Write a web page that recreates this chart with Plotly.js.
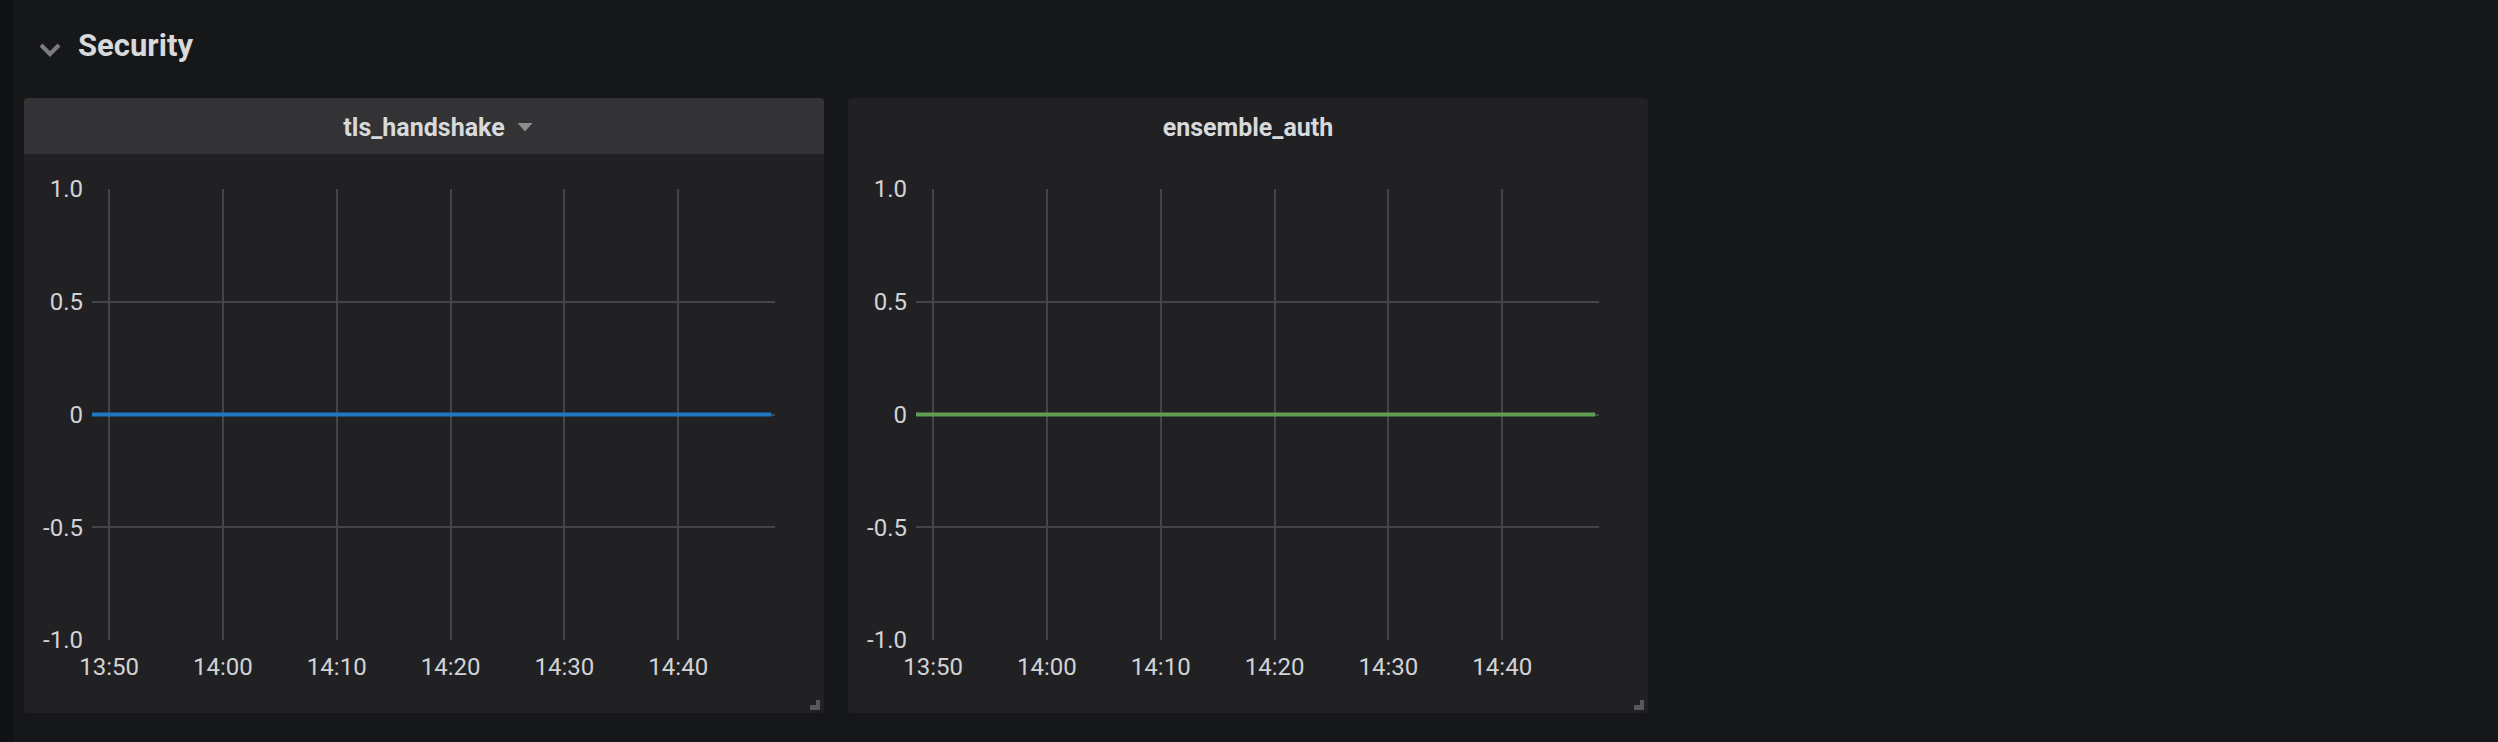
<!DOCTYPE html>
<html>
<head>
<meta charset="utf-8">
<script src="https://cdn.plot.ly/plotly-3.0.1.min.js"></script>
<style>
  html, body { margin: 0; padding: 0; }
  body { width: 2498px; height: 742px; background: #161719; position: relative; overflow: hidden;
         font-family: Roboto, "Helvetica Neue", Arial, sans-serif; }
  .edge { position: absolute; left: 0; top: 0; width: 13px; height: 742px; background: #111214; }
  .row-title { position: absolute; left: 78px; top: 30px; font-size: 31px; line-height: 1; font-weight: 700; color: #d8d9da; white-space: nowrap; }
  .chev { position: absolute; left: 36px; top: 38px; }
  .panel { position: absolute; top: 98px; width: 800px; height: 615px; background: #212124; border-radius: 4px; overflow: hidden; }
  .panel .hdr { position: absolute; left: 0; top: 0; width: 800px; height: 56px; background: #333335; }
  .panel .ttl { position: absolute; left: 0; top: 17px; width: 800px; text-align: center; font-size: 25px; line-height: 1; font-weight: 700; color: #d8d9da; white-space: nowrap; }
  .panel .plot { position: absolute; left: 0; top: 0; width: 800px; height: 615px; }
  .panel .arrow { position: absolute; left: 493px; top: 25px; }
  .panel .handle { position: absolute; right: 4px; bottom: 3px; width: 10px; height: 10px; }
</style>
</head>
<body>
<div class="edge"></div>
<svg class="chev" width="30" height="24" viewBox="0 0 30 24"><polyline points="5,7 14,16 23,7" fill="none" stroke="#7b7c7d" stroke-width="4.2" stroke-linecap="butt" stroke-linejoin="miter"/></svg>
<div class="row-title" id="rowTitle"></div>

<div class="panel" id="panel0" style="left:24px;">
  <div class="hdr"></div>
  <div class="plot" id="plot0"></div>
  <div class="ttl" id="title0"></div>
  <svg class="arrow" width="16" height="9" viewBox="0 0 16 9"><polygon points="0.5,0 15.5,0 8,8.5" fill="#8c8d8e"/></svg>
  <svg class="handle" width="10" height="10" viewBox="0 0 10 10"><path d="M6,0 H10 V10 H0 V5 H6 Z" fill="#57585a"/></svg>
</div>

<div class="panel" id="panel1" style="left:848px;">
  <div class="plot" id="plot1"></div>
  <div class="ttl" id="title1"></div>
  <svg class="handle" width="10" height="10" viewBox="0 0 10 10"><path d="M6,0 H10 V10 H0 V5 H6 Z" fill="#57585a"/></svg>
</div>

<script>
// ---- data ----
const rowTitle = 'Security';
const panelTitles = ['tls_handshake', 'ensemble_auth'];
const seriesColors = ['#1f78c1', '#629e51'];
const times = [
  '2019-01-01 13:48:30', '2019-01-01 13:53:30', '2019-01-01 13:58:30', '2019-01-01 14:03:30',
  '2019-01-01 14:08:30', '2019-01-01 14:13:30', '2019-01-01 14:18:30', '2019-01-01 14:23:30',
  '2019-01-01 14:28:30', '2019-01-01 14:33:30', '2019-01-01 14:38:30', '2019-01-01 14:43:30',
  '2019-01-01 14:48:10'
];
const tlsHandshake = [0, 0, 0, 0, 0, 0, 0, 0, 0, 0, 0, 0, 0];
const ensembleAuth = [0, 0, 0, 0, 0, 0, 0, 0, 0, 0, 0, 0, 0];
const xRange = ['2019-01-01 13:48:30', '2019-01-01 14:48:30'];
const xTick0 = '2019-01-01 13:50:00';
const yTickVals = [-1, -0.5, 0, 0.5, 1];
const yTickText = ['-1.0', '-0.5', '0', '0.5', '1.0'];
const seriesValues = [tlsHandshake, ensembleAuth];

document.getElementById('rowTitle').textContent = rowTitle;

const gridColor = '#444547';
const tickFont = { family: 'Roboto, "Helvetica Neue", Arial, sans-serif', size: 24, color: '#d2d3d4' };

panelTitles.forEach(function (t, i) {
  document.getElementById('title' + i).textContent = t;
  const trace = {
    x: times, y: seriesValues[i], type: 'scatter', mode: 'lines',
    line: { color: seriesColors[i], width: 4 }, hoverinfo: 'skip'
  };
  const layout = {
    width: 800, height: 615,
    margin: { l: 68, r: 49, t: 91, b: 73, pad: 0 },
    paper_bgcolor: 'rgba(0,0,0,0)', plot_bgcolor: 'rgba(0,0,0,0)',
    showlegend: false,
    xaxis: {
      type: 'date', range: xRange, tick0: xTick0, dtick: 600000, tickformat: '%H:%M',
      showgrid: true, gridcolor: gridColor, gridwidth: 2, zeroline: false, showline: false,
      ticks: '', ticklabelstandoff: 10, tickfont: tickFont, fixedrange: true
    },
    yaxis: {
      range: [-1, 1], tickmode: 'array', tickvals: yTickVals, ticktext: yTickText,
      showgrid: true, gridcolor: gridColor, gridwidth: 2, zeroline: false, showline: false,
      ticks: '', ticklabelstandoff: 8, tickfont: tickFont, fixedrange: true
    }
  };
  Plotly.newPlot('plot' + i, [trace], layout, { staticPlot: true, displayModeBar: false });
});
</script>
</body>
</html>
